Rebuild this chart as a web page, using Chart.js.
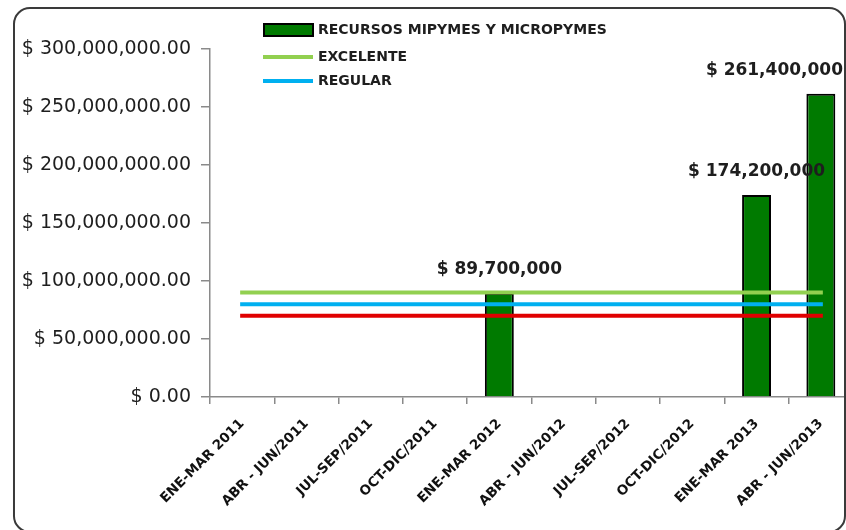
<!DOCTYPE html>
<html>
<head>
<meta charset="utf-8">
<script src="https://cdn.jsdelivr.net/npm/chart.js@4/dist/chart.umd.min.js"></script>
<style>
    html, body { margin: 0; padding: 0; background: #fff; overflow: hidden; }
    #wrap { width: 860px; height: 530px; }
</style>
</head>
<body>
<div id="wrap"><canvas id="chart" width="860" height="530"></canvas></div>
<script>
const periods = ['ENE-MAR 2011', 'ABR - JUN/2011', 'JUL-SEP/2011', 'OCT-DIC/2011', 'ENE-MAR 2012',
    'ABR - JUN/2012', 'JUL-SEP/2012', 'OCT-DIC/2012', 'ENE-MAR 2013', 'ABR - JUN/2013'];
const recursos = [null, null, null, null, 89700000, null, null, null, 174200000, 261400000];
const excelente = [90000000, 90000000, 90000000, 90000000, 90000000, 90000000, 90000000, 90000000, 90000000, 90000000];
const regular = [80000000, 80000000, 80000000, 80000000, 80000000, 80000000, 80000000, 80000000, 80000000, 80000000];
const deficiente = [70000000, 70000000, 70000000, 70000000, 70000000, 70000000, 70000000, 70000000, 70000000, 70000000];
const yMax = 300000000;
const yStep = 50000000;

const axisGray = '#8a8a8a';
const textDark = '#1e1e1e';

function money(value, decimals) {
    return '$ ' + Number(value).toLocaleString('en-US', {
        minimumFractionDigits: decimals,
        maximumFractionDigits: decimals
    });
}

// rounded frame around the whole chart
const frame = {
    id: 'frame',
    afterDraw(chart) {
        const ctx = chart.ctx;
        ctx.save();
        ctx.strokeStyle = '#3a3a3a';
        ctx.lineWidth = 2;
        ctx.beginPath();
        ctx.roundRect(14, 8, 831, 524, 16);
        ctx.stroke();
        ctx.restore();
    }
};

// value labels above the bars
const barLabels = {
    id: 'barLabels',
    afterDatasetsDraw(chart) {
        const ctx = chart.ctx;
        const meta = chart.getDatasetMeta(0);
        ctx.save();
        ctx.font = 'bold 17px "DejaVu Sans"';
        ctx.fillStyle = textDark;
        ctx.textAlign = 'center';
        ctx.textBaseline = 'middle';
        meta.data.forEach((bar, i) => {
            const v = recursos[i];
            if (v == null) return;
            const text = money(v, 0);
            const w = ctx.measureText(text).width;
            const x = Math.min(bar.x, 843 - w / 2);
            ctx.fillText(text, x, bar.y - 23);
        });
        ctx.restore();
    }
};

// vertical legend inside the plot, red series left out
const sideLegend = {
    id: 'sideLegend',
    afterDraw(chart) {
        const ctx = chart.ctx;
        const sets = chart.data.datasets;
        ctx.save();
        ctx.font = 'bold 14px "DejaVu Sans"';
        ctx.fillStyle = textDark;
        ctx.textBaseline = 'middle';
        ctx.textAlign = 'left';

        ctx.fillStyle = sets[0].backgroundColor;
        ctx.fillRect(264, 24, 49, 12);
        ctx.strokeStyle = '#000';
        ctx.lineWidth = 2;
        ctx.strokeRect(264, 24, 49, 12);
        ctx.fillStyle = textDark;
        ctx.fillText(sets[0].label, 318, 30);

        [1, 2].forEach((k, row) => {
            const y = 57 + row * 24;
            ctx.strokeStyle = sets[k].borderColor;
            ctx.lineWidth = 4;
            ctx.beginPath();
            ctx.moveTo(263, y);
            ctx.lineTo(313, y);
            ctx.stroke();
            ctx.fillText(sets[k].label, 318, y);
        });
        ctx.restore();
    }
};

function thresholdLine(label, data, color) {
    return {
        type: 'line',
        label,
        data,
        borderColor: color,
        backgroundColor: color,
        borderWidth: 4,
        pointRadius: 0,
        borderCapStyle: 'square',
        order: 0
    };
}

new Chart(document.getElementById('chart'), {
    type: 'bar',
    data: {
        labels: periods,
        datasets: [
            {
                label: 'RECURSOS MIPYMES Y MICROPYMES',
                data: recursos,
                backgroundColor: '#007a00',
                borderColor: '#000',
                borderWidth: 2,
                barPercentage: 0.45,
                categoryPercentage: 1,
                order: 1
            },
            thresholdLine('EXCELENTE', excelente, '#92d050'),
            thresholdLine('REGULAR', regular, '#00b0f0'),
            thresholdLine('DEFICIENTE', deficiente, '#e00000')
        ]
    },
    options: {
        responsive: false,
        animation: false,
        layout: {
            padding: { top: 49, right: 7, left: 0, bottom: 0 }
        },
        plugins: {
            legend: { display: false },
            tooltip: { enabled: false }
        },
        scales: {
            x: {
                offset: true,
                grid: {
                    offset: true,
                    drawOnChartArea: false,
                    drawTicks: true,
                    tickLength: 7,
                    color: axisGray,
                    lineWidth: 1.5
                },
                border: { color: axisGray, width: 1.5 },
                ticks: {
                    minRotation: 45,
                    maxRotation: 45,
                    autoSkip: false,
                    padding: 12,
                    color: '#111',
                    font: { family: '"DejaVu Sans"', size: 13.5, weight: 'bold' }
                },
                afterFit(scale) {
                    scale.height = 133;
                }
            },
            y: {
                min: 0,
                max: yMax,
                grid: {
                    drawOnChartArea: false,
                    drawTicks: true,
                    tickLength: 9,
                    color: axisGray,
                    lineWidth: 1.5
                },
                border: { color: axisGray, width: 1.5 },
                ticks: {
                    stepSize: yStep,
                    padding: 10,
                    color: textDark,
                    font: { family: '"DejaVu Sans"', size: 19 },
                    callback: (v) => money(v, 2)
                },
                afterFit(scale) {
                    scale.width = 210;
                }
            }
        }
    },
    plugins: [frame, barLabels, sideLegend]
});
</script>
</body>
</html>
